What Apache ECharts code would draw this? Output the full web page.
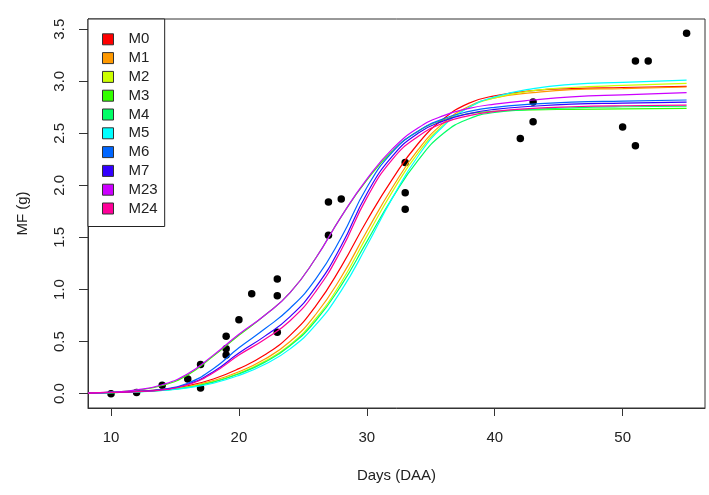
<!DOCTYPE html>
<html><head><meta charset="utf-8">
<script src="https://cdn.jsdelivr.net/npm/echarts@6/dist/echarts.min.js"></script>
<style>html,body{margin:0;padding:0;background:#fff}#c{width:709px;height:495px}</style>
</head><body><div id="c"></div>
<script>
const days = [8.2,10,12,14,16,18,20,22,24,26,28,30,32,34,36,38,40,43,46,50,55];

const modelNames = ['M0','M1','M2','M3','M4','M5','M6','M7','M23','M24'];
const modelColors = ['#FF0000','#FF9900','#CCFF00','#33FF00','#00FF66','#00FFFF','#0066FF','#3300FF','#CC00FF','#FF0099'];

const M0  = [0.006,0.012,0.022,0.040,0.075,0.140,0.240,0.370,0.560,0.840,1.220,1.660,2.060,2.400,2.640,2.790,2.860,2.910,2.930,2.940,2.950];
const M1  = [0.005,0.011,0.020,0.036,0.068,0.125,0.210,0.330,0.500,0.760,1.120,1.560,1.980,2.340,2.600,2.760,2.840,2.890,2.920,2.930,2.945];
const M2  = [0.005,0.010,0.018,0.033,0.062,0.115,0.195,0.310,0.470,0.720,1.070,1.510,1.940,2.310,2.580,2.750,2.840,2.910,2.940,2.960,2.980];
const M3  = [0.006,0.013,0.033,0.078,0.180,0.360,0.560,0.750,0.970,1.300,1.700,2.050,2.330,2.520,2.630,2.690,2.710,2.725,2.730,2.735,2.740];
const M4  = [0.005,0.010,0.018,0.032,0.060,0.110,0.190,0.300,0.460,0.700,1.040,1.460,1.880,2.240,2.500,2.640,2.700,2.730,2.745,2.755,2.760];
const M5  = [0.004,0.009,0.016,0.030,0.056,0.100,0.175,0.280,0.430,0.660,0.990,1.420,1.880,2.280,2.570,2.750,2.850,2.930,2.970,2.990,3.010];
const M6  = [0.005,0.012,0.022,0.040,0.100,0.240,0.440,0.620,0.820,1.100,1.500,1.980,2.320,2.520,2.640,2.710,2.750,2.780,2.800,2.810,2.820];
const M7  = [0.005,0.012,0.021,0.038,0.090,0.210,0.390,0.550,0.740,1.020,1.420,1.920,2.280,2.500,2.620,2.690,2.730,2.760,2.780,2.790,2.800];
const M23 = [0.006,0.014,0.036,0.085,0.190,0.370,0.570,0.750,0.970,1.300,1.700,2.060,2.350,2.550,2.670,2.740,2.780,2.820,2.850,2.870,2.890];
const M24 = [0.005,0.011,0.020,0.036,0.085,0.200,0.370,0.520,0.700,0.980,1.380,1.880,2.250,2.470,2.600,2.670,2.710,2.740,2.755,2.765,2.770];
const modelValues = [M0,M1,M2,M3,M4,M5,M6,M7,M23,M24];

// Observed points
const obsDays = [10,12,14,16,17,17,19,19,19,20,21,23,23,23,27,27,28,33,33,33,42,43,43,50,51,51,52,55];
const obsMF   = [0.00,0.01,0.08,0.14,0.28,0.055,0.55,0.43,0.37,0.71,0.96,1.10,0.94,0.59,1.84,1.52,1.87,2.22,1.93,1.77,2.45,2.61,2.80,2.56,2.38,3.195,3.195,3.46];

const xTicks = [10,20,30,40,50];
const yTicks = [0,0.5,1,1.5,2,2.5,3,3.5];

const FONT = "'Liberation Sans', Arial, Helvetica, sans-serif";
const TXT = '#222';
const chart = echarts.init(document.getElementById('c'), null, {renderer:'canvas'});

const series = [{
  type:'scatter', name:'obs', z:1,
  data: obsDays.map((d,i)=>[d, obsMF[i]]),
  symbol:'circle', symbolSize:7.5, itemStyle:{color:'#000', opacity:1}, silent:true
}];
modelNames.forEach((n,k)=>{
  series.push({
    type:'line', name:n, z:2, showSymbol:false, smooth:0.5,
    data: days.map((d,i)=>[d, modelValues[k][i]]),
    lineStyle:{color:modelColors[k], width:1.2},
    itemStyle:{color:modelColors[k]}
  });
});

chart.setOption({
  animation:false,
  backgroundColor:'#fff',
  textStyle:{fontFamily:FONT},
  grid:{left:88, right:4, top:19, bottom:87, show:true, borderColor:'#333', borderWidth:1, containLabel:false},
  legend:{
    data:modelNames, orient:'vertical', left:88, top:19, selectedMode:false,
    icon:'rect', itemWidth:11, itemHeight:11, itemGap:3.8,
    padding:[12.8, 7, 10.5, 14],
    backgroundColor:'#fff', borderColor:'#222', borderWidth:1, borderRadius:0,
    itemStyle:{borderColor:'#333', borderWidth:1},
    textStyle:{fontFamily:FONT, fontSize:15, color:TXT, lineHeight:15, padding:[0,0,0,10]}
  },
  xAxis:{
    type:'value', min:8.2, max:56.44,
    axisLine:{show:true, onZero:false, lineStyle:{color:'#333'}},
    axisTick:{show:true, customValues:xTicks, length:8, lineStyle:{color:'#333'}},
    axisLabel:{customValues:xTicks, margin:22, fontSize:15, color:TXT, fontFamily:FONT},
    splitLine:{show:false},
    name:'Days (DAA)', nameLocation:'middle', nameGap:60,
    nameTextStyle:{fontSize:15, color:TXT, fontFamily:FONT}
  },
  yAxis:{
    type:'value', min:-0.138, max:3.598,
    axisLine:{show:true, onZero:false, lineStyle:{color:'#333'}},
    axisTick:{show:true, customValues:yTicks, length:9, lineStyle:{color:'#333'}},
    axisLabel:{customValues:yTicks, rotate:90, margin:21, fontSize:15, color:TXT, fontFamily:FONT,
      formatter:v=>v.toFixed(1)},
    splitLine:{show:false},
    name:'MF (g)', nameLocation:'middle', nameGap:58, nameRotate:90,
    nameTextStyle:{fontSize:15, color:TXT, fontFamily:FONT}
  },
  series:series
});
</script></body></html>
